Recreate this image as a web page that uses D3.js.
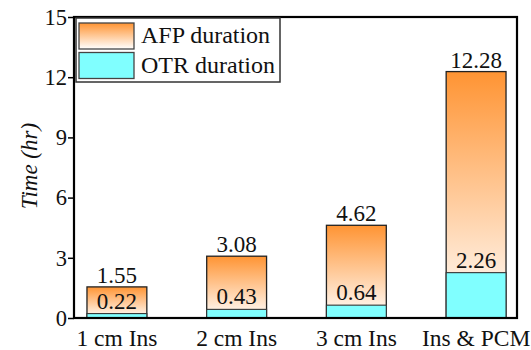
<!DOCTYPE html>
<html><head><meta charset="utf-8">
<script src="https://cdn.jsdelivr.net/npm/d3@7"></script>
<style>body{margin:0;background:#fff}svg{display:block}</style>
</head><body><svg id="chart" width="531" height="350"></svg>
<script>
// Durations per insulation case (hours)
const categories = ["1 cm Ins", "2 cm Ins", "3 cm Ins", "Ins & PCM"];
const afpDuration = [1.55, 3.08, 4.62, 12.28];
const otrDuration = [0.22, 0.43, 0.64, 2.26];
const yTicks = [0, 3, 6, 9, 12, 15];
const seriesNames = ["AFP duration", "OTR duration"];

const font = "'Liberation Serif','Times New Roman',serif";
const plot = {left: 74, right: 517, top: 17, bottom: 318};
const svg = d3.select("#chart");

const x = d3.scaleBand().domain(categories)
  .range([plot.left + 1, plot.right + 1]).paddingInner(0.5).paddingOuter(0.1);
const y = d3.scaleLinear().domain([0, 15]).range([plot.bottom, plot.top]);

// Orange-to-white vertical fill for AFP bars
const grad = svg.append("defs").append("linearGradient")
  .attr("id", "afpGrad").attr("x1", 0).attr("y1", 0).attr("x2", 0).attr("y2", 1);
grad.append("stop").attr("offset", "0%").attr("stop-color", "#ff9433");
grad.append("stop").attr("offset", "100%").attr("stop-color", "#ffffff");
const otrColor = "#80ffff";

const rows = categories.map((c, i) => ({c, afp: afpDuration[i], otr: otrDuration[i]}));

// AFP bars (from zero)
svg.append("g").selectAll("rect").data(rows).join("rect")
  .attr("x", d => x(d.c)).attr("width", x.bandwidth())
  .attr("y", d => y(d.afp)).attr("height", d => y(0) - y(d.afp))
  .attr("fill", "url(#afpGrad)").attr("stroke", "#222").attr("stroke-width", 1.3);

// OTR bars drawn over the base of each AFP bar
svg.append("g").selectAll("rect").data(rows).join("rect")
  .attr("x", d => x(d.c)).attr("width", x.bandwidth())
  .attr("y", d => y(d.otr)).attr("height", d => y(0) - y(d.otr))
  .attr("fill", otrColor).attr("stroke", "#333").attr("stroke-width", 1.1);

// Value labels
const labels = svg.append("g").attr("font-family", font).attr("font-size", 23)
  .attr("text-anchor", "middle").attr("fill", "#111");
labels.selectAll(".afp").data(rows).join("text").attr("class", "afp")
  .attr("x", d => x(d.c) + x.bandwidth() / 2).attr("y", d => y(d.afp) - 4)
  .text(d => d.afp.toFixed(2));
labels.selectAll(".otr").data(rows).join("text").attr("class", "otr")
  .attr("x", d => x(d.c) + x.bandwidth() / 2).attr("y", d => y(d.otr) - 5)
  .text(d => d.otr.toFixed(2));

// Y axis
const yAxis = svg.append("g").attr("transform", `translate(${plot.left},0)`)
  .call(d3.axisLeft(y).tickValues(yTicks).tickSize(6).tickPadding(1).tickFormat(d3.format("d")));
yAxis.select(".domain").remove();
yAxis.selectAll("line").attr("stroke", "#000").attr("stroke-width", 1.5);
yAxis.selectAll("text").attr("font-family", font).attr("font-size", 22.5).attr("fill", "#111");

// Category labels
svg.append("g").selectAll("text").data(categories).join("text")
  .attr("x", d => x(d) + x.bandwidth() / 2).attr("y", 346)
  .attr("text-anchor", "middle").attr("font-family", font).attr("font-size", 23.5)
  .attr("fill", "#111").text(d => d);

// Frame
svg.append("rect").attr("x", plot.left).attr("y", plot.top)
  .attr("width", plot.right - plot.left).attr("height", plot.bottom - plot.top)
  .attr("fill", "none").attr("stroke", "#000").attr("stroke-width", 2.2);

// Axis title
svg.append("text").attr("transform", "translate(37,166) rotate(-90)")
  .attr("text-anchor", "middle").attr("font-family", font).attr("font-size", 23)
  .attr("font-style", "italic").attr("fill", "#111").text("Time (hr)");

// Legend
const lg = svg.append("g");
lg.append("rect").attr("x", 76).attr("y", 18).attr("width", 204).attr("height", 64)
  .attr("fill", "#fff").attr("stroke", "#333").attr("stroke-width", 1.5);
const swatchFill = ["url(#afpGrad)", otrColor];
seriesNames.forEach((name, i) => {
  lg.append("rect").attr("x", 79).attr("y", 23 + i * 29.5).attr("width", 55).attr("height", 26)
    .attr("fill", swatchFill[i]).attr("stroke", "#444").attr("stroke-width", 1.3);
  lg.append("text").attr("x", 141).attr("y", 43 + i * 30)
    .attr("font-family", font).attr("font-size", 24).attr("fill", "#111").text(name);
});
</script></body></html>
